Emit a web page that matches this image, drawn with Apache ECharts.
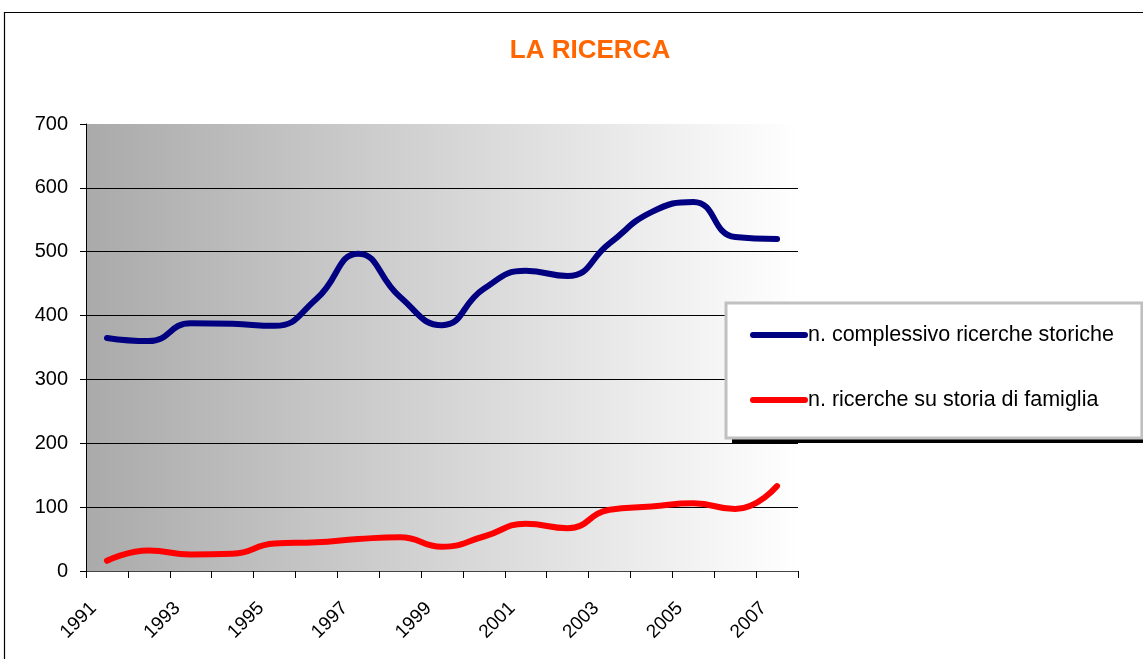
<!DOCTYPE html>
<html>
<head>
<meta charset="utf-8">
<script src="https://cdn.jsdelivr.net/npm/echarts@6/dist/echarts.min.js"></script>
<style>
html,body{margin:0;padding:0;background:#fff;}
#chart{width:1143px;height:659px;}
</style>
</head>
<body>
<div id="chart"></div>
<script>
const years = ['1991','1992','1993','1994','1995','1996','1997','1998','1999','2000','2001','2002','2003','2004','2005','2006','2007'];
const totalSearches = [365, 360, 388, 387, 384, 426, 497, 429, 385, 442, 470, 462, 513, 562, 578, 523, 520];
const familySearches = [16, 32, 26, 27, 43, 45, 50, 53, 38, 54, 74, 67, 96, 101, 106, 97, 133];
const yTicks = {min: 0, max: 700, interval: 100};
const seriesNames = ['n. complessivo ricerche storiche', 'n. ricerche su storia di famiglia'];

const FONT = '"Liberation Sans", Arial, sans-serif';
const chart = echarts.init(document.getElementById('chart'));
const iconPath = 'path://M3,0 L55,0 A3,3 0 0 1 55,6 L3,6 A3,3 0 0 1 3,0 Z';

chart.setOption({
  animation: false,
  title: {
    text: 'LA RICERCA',
    left: 585,
    top: 33,
    textAlign: 'center',
    textStyle: {color: '#FF6600', fontSize: 26, fontWeight: 'bold', fontFamily: FONT}
  },
  graphic: [
    {
      type: 'rect',
      shape: {x: 4.5, y: 12.5, width: 1200, height: 700},
      style: {fill: 'none', stroke: '#000', lineWidth: 1.2},
      silent: true,
      z: 100
    },
    {
      type: 'rect',
      shape: {x: 732, y: 310, width: 415, height: 133},
      style: {fill: '#000'},
      silent: true,
      z: 1
    }
  ],
  legend: {
    orient: 'vertical',
    left: 726,
    top: 303,
    padding: [21, 28, 27, 24],
    itemGap: 43,
    itemWidth: 58,
    itemHeight: 6,
    backgroundColor: '#fff',
    borderColor: '#c0c0c0',
    borderWidth: 3,
    z: 5,
    textStyle: {color: '#000', fontSize: 21.5, fontFamily: FONT, lineHeight: 20, padding: [0, 0, 0, -5]},
    data: [
      {name: seriesNames[0], icon: iconPath},
      {name: seriesNames[1], icon: iconPath}
    ]
  },
  grid: {
    left: 86, top: 124, right: 345, bottom: 88,
    containLabel: false,
    outerBoundsMode: 'none',
    show: true,
    borderWidth: 0,
    backgroundColor: new echarts.graphic.LinearGradient(0, 0, 1, 0, [
      {offset: 0, color: '#aaaaaa'},
      {offset: 1, color: '#ffffff'}
    ])
  },
  xAxis: {
    type: 'category',
    data: years,
    boundaryGap: true,
    axisLine: {lineStyle: {color: '#444', width: 1}},
    axisTick: {show: true, interval: 0, length: 7, lineStyle: {color: '#000'}},
    axisLabel: {
      interval: 1,
      rotate: 45,
      margin: 21,
      padding: [0, 19, 0, 0],
      color: '#000',
      fontSize: 19,
      fontFamily: FONT
    },
    splitLine: {show: false}
  },
  yAxis: {
    type: 'value',
    min: yTicks.min,
    max: yTicks.max,
    interval: yTicks.interval,
    axisLine: {show: true, lineStyle: {color: '#000', width: 1}},
    axisTick: {show: true, length: 6, lineStyle: {color: '#000'}},
    axisLabel: {color: '#000', fontSize: 20, fontFamily: FONT, margin: 18},
    splitLine: {show: true, showMinLine: false, showMaxLine: false, lineStyle: {color: '#000', width: 1}}
  },
  series: [
    {
      name: seriesNames[0],
      type: 'line',
      data: totalSearches,
      smooth: 0.5,
      symbol: 'none',
      color: '#000080',
      lineStyle: {color: '#000080', width: 6, cap: 'round', join: 'round'}
    },
    {
      name: seriesNames[1],
      type: 'line',
      data: familySearches,
      smooth: 0.5,
      symbol: 'none',
      color: '#FF0000',
      lineStyle: {color: '#FF0000', width: 6, cap: 'round', join: 'round'}
    }
  ]
});
</script>
</body>
</html>
